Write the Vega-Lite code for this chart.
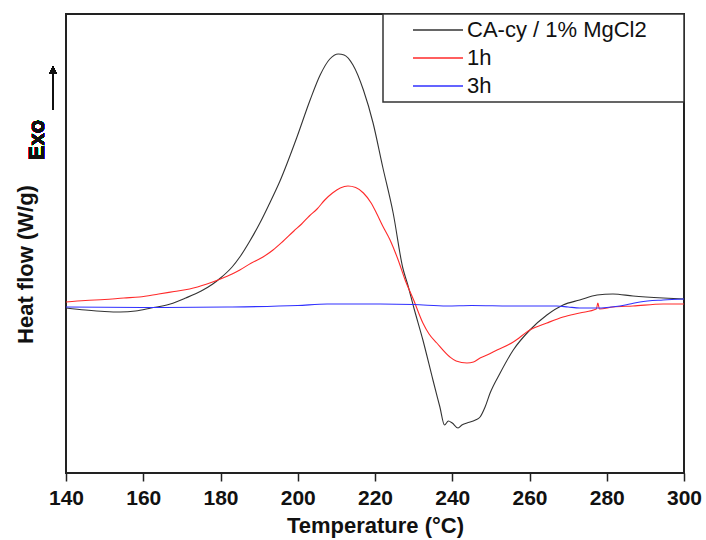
{
  "$schema": "https://vega.github.io/schema/vega-lite/v6.json",
  "width": 618,
  "height": 459,
  "autosize": "none",
  "padding": {"left": 66, "top": 14, "right": 22, "bottom": 67},
  "background": "white",
  "config": {
    "view": {"stroke": "#222222", "strokeWidth": 2},
    "font": "Liberation Sans"
  },
  "data": {
    "values": [
      {"sample": "CA-cy / 1% MgCl2", "temperature": 140, "heat_flow": -0.01},
      {"sample": "CA-cy / 1% MgCl2", "temperature": 145, "heat_flow": -0.03},
      {"sample": "CA-cy / 1% MgCl2", "temperature": 150, "heat_flow": -0.045},
      {"sample": "CA-cy / 1% MgCl2", "temperature": 154, "heat_flow": -0.05},
      {"sample": "CA-cy / 1% MgCl2", "temperature": 158, "heat_flow": -0.04},
      {"sample": "CA-cy / 1% MgCl2", "temperature": 162, "heat_flow": -0.01},
      {"sample": "CA-cy / 1% MgCl2", "temperature": 167, "heat_flow": 0.03},
      {"sample": "CA-cy / 1% MgCl2", "temperature": 171, "heat_flow": 0.09},
      {"sample": "CA-cy / 1% MgCl2", "temperature": 175, "heat_flow": 0.16},
      {"sample": "CA-cy / 1% MgCl2", "temperature": 178, "heat_flow": 0.23},
      {"sample": "CA-cy / 1% MgCl2", "temperature": 180, "heat_flow": 0.29},
      {"sample": "CA-cy / 1% MgCl2", "temperature": 183, "heat_flow": 0.40},
      {"sample": "CA-cy / 1% MgCl2", "temperature": 185, "heat_flow": 0.50},
      {"sample": "CA-cy / 1% MgCl2", "temperature": 187.6, "heat_flow": 0.66},
      {"sample": "CA-cy / 1% MgCl2", "temperature": 190.2, "heat_flow": 0.84},
      {"sample": "CA-cy / 1% MgCl2", "temperature": 192.5, "heat_flow": 1.02},
      {"sample": "CA-cy / 1% MgCl2", "temperature": 195.4, "heat_flow": 1.26},
      {"sample": "CA-cy / 1% MgCl2", "temperature": 199.8, "heat_flow": 1.70},
      {"sample": "CA-cy / 1% MgCl2", "temperature": 203.2, "heat_flow": 2.07},
      {"sample": "CA-cy / 1% MgCl2", "temperature": 205.8, "heat_flow": 2.32},
      {"sample": "CA-cy / 1% MgCl2", "temperature": 208.3, "heat_flow": 2.48},
      {"sample": "CA-cy / 1% MgCl2", "temperature": 210.5, "heat_flow": 2.53},
      {"sample": "CA-cy / 1% MgCl2", "temperature": 212, "heat_flow": 2.52},
      {"sample": "CA-cy / 1% MgCl2", "temperature": 214.3, "heat_flow": 2.42},
      {"sample": "CA-cy / 1% MgCl2", "temperature": 217, "heat_flow": 2.17},
      {"sample": "CA-cy / 1% MgCl2", "temperature": 219.5, "heat_flow": 1.84},
      {"sample": "CA-cy / 1% MgCl2", "temperature": 222, "heat_flow": 1.40},
      {"sample": "CA-cy / 1% MgCl2", "temperature": 224.7, "heat_flow": 0.94},
      {"sample": "CA-cy / 1% MgCl2", "temperature": 227.2, "heat_flow": 0.39},
      {"sample": "CA-cy / 1% MgCl2", "temperature": 228.5, "heat_flow": 0.22},
      {"sample": "CA-cy / 1% MgCl2", "temperature": 230, "heat_flow": 0.0},
      {"sample": "CA-cy / 1% MgCl2", "temperature": 232.4, "heat_flow": -0.33},
      {"sample": "CA-cy / 1% MgCl2", "temperature": 235, "heat_flow": -0.73},
      {"sample": "CA-cy / 1% MgCl2", "temperature": 236.8, "heat_flow": -1.00},
      {"sample": "CA-cy / 1% MgCl2", "temperature": 238, "heat_flow": -1.18},
      {"sample": "CA-cy / 1% MgCl2", "temperature": 239, "heat_flow": -1.14},
      {"sample": "CA-cy / 1% MgCl2", "temperature": 240, "heat_flow": -1.16},
      {"sample": "CA-cy / 1% MgCl2", "temperature": 241.5, "heat_flow": -1.21},
      {"sample": "CA-cy / 1% MgCl2", "temperature": 242.5, "heat_flow": -1.18},
      {"sample": "CA-cy / 1% MgCl2", "temperature": 243.8, "heat_flow": -1.16},
      {"sample": "CA-cy / 1% MgCl2", "temperature": 246, "heat_flow": -1.13},
      {"sample": "CA-cy / 1% MgCl2", "temperature": 247.2, "heat_flow": -1.10},
      {"sample": "CA-cy / 1% MgCl2", "temperature": 248.5, "heat_flow": -1.00},
      {"sample": "CA-cy / 1% MgCl2", "temperature": 249.8, "heat_flow": -0.86},
      {"sample": "CA-cy / 1% MgCl2", "temperature": 252.4, "heat_flow": -0.66},
      {"sample": "CA-cy / 1% MgCl2", "temperature": 255.8, "heat_flow": -0.43},
      {"sample": "CA-cy / 1% MgCl2", "temperature": 260.1, "heat_flow": -0.23},
      {"sample": "CA-cy / 1% MgCl2", "temperature": 264.5, "heat_flow": -0.08},
      {"sample": "CA-cy / 1% MgCl2", "temperature": 268.7, "heat_flow": 0.02},
      {"sample": "CA-cy / 1% MgCl2", "temperature": 273, "heat_flow": 0.07},
      {"sample": "CA-cy / 1% MgCl2", "temperature": 277.5, "heat_flow": 0.12},
      {"sample": "CA-cy / 1% MgCl2", "temperature": 281.6, "heat_flow": 0.13},
      {"sample": "CA-cy / 1% MgCl2", "temperature": 286.8, "heat_flow": 0.11},
      {"sample": "CA-cy / 1% MgCl2", "temperature": 294.6, "heat_flow": 0.09},
      {"sample": "CA-cy / 1% MgCl2", "temperature": 300, "heat_flow": 0.08},
      {"sample": "1h", "temperature": 140, "heat_flow": 0.05},
      {"sample": "1h", "temperature": 145, "heat_flow": 0.065},
      {"sample": "1h", "temperature": 150, "heat_flow": 0.075},
      {"sample": "1h", "temperature": 155, "heat_flow": 0.09},
      {"sample": "1h", "temperature": 159, "heat_flow": 0.10},
      {"sample": "1h", "temperature": 164, "heat_flow": 0.13},
      {"sample": "1h", "temperature": 168, "heat_flow": 0.155},
      {"sample": "1h", "temperature": 172, "heat_flow": 0.18},
      {"sample": "1h", "temperature": 176.5, "heat_flow": 0.23},
      {"sample": "1h", "temperature": 180, "heat_flow": 0.28},
      {"sample": "1h", "temperature": 183, "heat_flow": 0.33},
      {"sample": "1h", "temperature": 185, "heat_flow": 0.37},
      {"sample": "1h", "temperature": 188, "heat_flow": 0.44},
      {"sample": "1h", "temperature": 191, "heat_flow": 0.50},
      {"sample": "1h", "temperature": 193.6, "heat_flow": 0.57},
      {"sample": "1h", "temperature": 196, "heat_flow": 0.65},
      {"sample": "1h", "temperature": 199, "heat_flow": 0.76},
      {"sample": "1h", "temperature": 201, "heat_flow": 0.83},
      {"sample": "1h", "temperature": 203, "heat_flow": 0.91},
      {"sample": "1h", "temperature": 205, "heat_flow": 0.98},
      {"sample": "1h", "temperature": 207, "heat_flow": 1.07},
      {"sample": "1h", "temperature": 209, "heat_flow": 1.14},
      {"sample": "1h", "temperature": 211, "heat_flow": 1.19},
      {"sample": "1h", "temperature": 213, "heat_flow": 1.21},
      {"sample": "1h", "temperature": 215, "heat_flow": 1.195},
      {"sample": "1h", "temperature": 217, "heat_flow": 1.14},
      {"sample": "1h", "temperature": 219, "heat_flow": 1.04},
      {"sample": "1h", "temperature": 220.5, "heat_flow": 0.93},
      {"sample": "1h", "temperature": 222, "heat_flow": 0.81},
      {"sample": "1h", "temperature": 223.9, "heat_flow": 0.67},
      {"sample": "1h", "temperature": 226, "heat_flow": 0.47},
      {"sample": "1h", "temperature": 227.8, "heat_flow": 0.27},
      {"sample": "1h", "temperature": 230, "heat_flow": 0.07},
      {"sample": "1h", "temperature": 232.4, "heat_flow": -0.16},
      {"sample": "1h", "temperature": 234, "heat_flow": -0.27},
      {"sample": "1h", "temperature": 236, "heat_flow": -0.36},
      {"sample": "1h", "temperature": 239.4, "heat_flow": -0.50},
      {"sample": "1h", "temperature": 241, "heat_flow": -0.54},
      {"sample": "1h", "temperature": 243.8, "heat_flow": -0.56},
      {"sample": "1h", "temperature": 245.5, "heat_flow": -0.55},
      {"sample": "1h", "temperature": 247.2, "heat_flow": -0.51},
      {"sample": "1h", "temperature": 249, "heat_flow": -0.48},
      {"sample": "1h", "temperature": 251.6, "heat_flow": -0.43},
      {"sample": "1h", "temperature": 255.8, "heat_flow": -0.35},
      {"sample": "1h", "temperature": 260.1, "heat_flow": -0.23},
      {"sample": "1h", "temperature": 264.5, "heat_flow": -0.16},
      {"sample": "1h", "temperature": 268.7, "heat_flow": -0.10},
      {"sample": "1h", "temperature": 273, "heat_flow": -0.06},
      {"sample": "1h", "temperature": 277.3, "heat_flow": -0.02},
      {"sample": "1h", "temperature": 277.7, "heat_flow": 0.04},
      {"sample": "1h", "temperature": 278.1, "heat_flow": -0.02},
      {"sample": "1h", "temperature": 281.6, "heat_flow": 0.0},
      {"sample": "1h", "temperature": 286.8, "heat_flow": 0.01},
      {"sample": "1h", "temperature": 294.6, "heat_flow": 0.03},
      {"sample": "1h", "temperature": 300, "heat_flow": 0.03},
      {"sample": "3h", "temperature": 140, "heat_flow": 0.0},
      {"sample": "3h", "temperature": 160, "heat_flow": -0.005},
      {"sample": "3h", "temperature": 181.7, "heat_flow": 0.0},
      {"sample": "3h", "temperature": 200, "heat_flow": 0.015},
      {"sample": "3h", "temperature": 207.6, "heat_flow": 0.03},
      {"sample": "3h", "temperature": 215, "heat_flow": 0.03},
      {"sample": "3h", "temperature": 221.3, "heat_flow": 0.03},
      {"sample": "3h", "temperature": 230, "heat_flow": 0.025},
      {"sample": "3h", "temperature": 238.6, "heat_flow": 0.01},
      {"sample": "3h", "temperature": 245, "heat_flow": 0.015},
      {"sample": "3h", "temperature": 255.8, "heat_flow": 0.01},
      {"sample": "3h", "temperature": 267.1, "heat_flow": 0.01},
      {"sample": "3h", "temperature": 270, "heat_flow": 0.0},
      {"sample": "3h", "temperature": 273, "heat_flow": -0.01},
      {"sample": "3h", "temperature": 277.5, "heat_flow": -0.01},
      {"sample": "3h", "temperature": 280, "heat_flow": -0.005},
      {"sample": "3h", "temperature": 283.4, "heat_flow": 0.01},
      {"sample": "3h", "temperature": 286, "heat_flow": 0.03},
      {"sample": "3h", "temperature": 288.6, "heat_flow": 0.05},
      {"sample": "3h", "temperature": 294.6, "heat_flow": 0.07},
      {"sample": "3h", "temperature": 300, "heat_flow": 0.08}
    ]
  },
  "layer": [
    {
      "mark": {"type": "line", "strokeWidth": 1.1, "clip": true, "interpolate": "monotone"},
      "encoding": {
        "x": {
          "field": "temperature",
          "type": "quantitative",
          "scale": {"domain": [140, 300], "nice": false, "zero": false},
          "axis": {
            "title": "Temperature (°C)",
            "values": [140, 150, 160, 170, 180, 190, 200, 210, 220, 230, 240, 250, 260, 270, 280, 290, 300],
            "labelExpr": "datum.value % 20 === 0 ? datum.label : ''",
            "tickSize": {"condition": {"test": "datum.value % 20 === 0", "value": 8}, "value": 5},
            "tickColor": "#222222",
            "tickWidth": 1.5,
            "domain": false,
            "grid": false,
            "labelFont": "Liberation Sans",
            "labelFontSize": 21,
            "labelFontWeight": "bold",
            "labelColor": "#111111",
            "labelPadding": 6,
            "labelFlush": false,
            "labelOverlap": false,
            "titleFont": "Liberation Sans",
            "titleFontSize": 22,
            "titleFontWeight": "bold",
            "titleColor": "#111111",
            "titlePadding": 7
          }
        },
        "y": {
          "field": "heat_flow",
          "type": "quantitative",
          "scale": {"domain": [-1.66, 2.93], "nice": false, "zero": false},
          "axis": {
            "title": "Heat flow (W/g)",
            "labels": false,
            "ticks": false,
            "domain": false,
            "grid": false,
            "titleFont": "Liberation Sans",
            "titleFontSize": 22,
            "titleFontWeight": "bold",
            "titleColor": "#111111",
            "titleAngle": 270,
            "titleX": -34,
            "titleY": 250,
            "titleAlign": "center",
            "titleBaseline": "alphabetic"
          }
        },
        "color": {
          "field": "sample",
          "type": "nominal",
          "sort": ["CA-cy / 1% MgCl2", "1h", "3h"],
          "scale": {"domain": ["CA-cy / 1% MgCl2", "1h", "3h"], "range": ["#333333", "#ff2a2a", "#3030ff"]},
          "legend": {
            "title": null,
            "orient": "top-right",
            "offset": 0,
            "padding": 5,
            "fillColor": "white",
            "strokeColor": "#333333",
            "symbolType": "M-2.5,0H2.5",
            "symbolSize": 400,
            "symbolStrokeWidth": 1.3,
            "symbolOffset": 39,
            "labelFont": "Liberation Sans",
            "labelFontSize": 22,
            "labelColor": "#111111",
            "labelLimit": 0,
            "labelOffset": 18,
            "rowPadding": 6,
            "labelExpr": "datum.label + '\u2800\u2800'",
            "encode": {"legend": {"update": {"strokeWidth": {"value": 1.5}}}}
          }
        }
      }
    },
    {
      "mark": {"type": "text", "text": "Exo", "angle": 270, "font": "Liberation Sans", "fontSize": 22, "fontWeight": "bold", "color": "#111111", "align": "center", "baseline": "middle"},
      "encoding": {
        "x": {"datum": 132.5, "type": "quantitative"},
        "y": {"datum": 1.67, "type": "quantitative"}
      }
    },
    {
      "mark": {"type": "rule", "color": "#111111", "strokeWidth": 1.5},
      "encoding": {
        "x": {"datum": 136.63, "type": "quantitative"},
        "y": {"datum": 1.97, "type": "quantitative"},
        "y2": {"datum": 2.34}
      }
    },
    {
      "mark": {"type": "point", "shape": "triangle-up", "filled": true, "color": "#111111", "size": 55, "opacity": 1},
      "encoding": {
        "x": {"datum": 136.63, "type": "quantitative"},
        "y": {"datum": 2.37, "type": "quantitative"}
      }
    }
  ]
}
